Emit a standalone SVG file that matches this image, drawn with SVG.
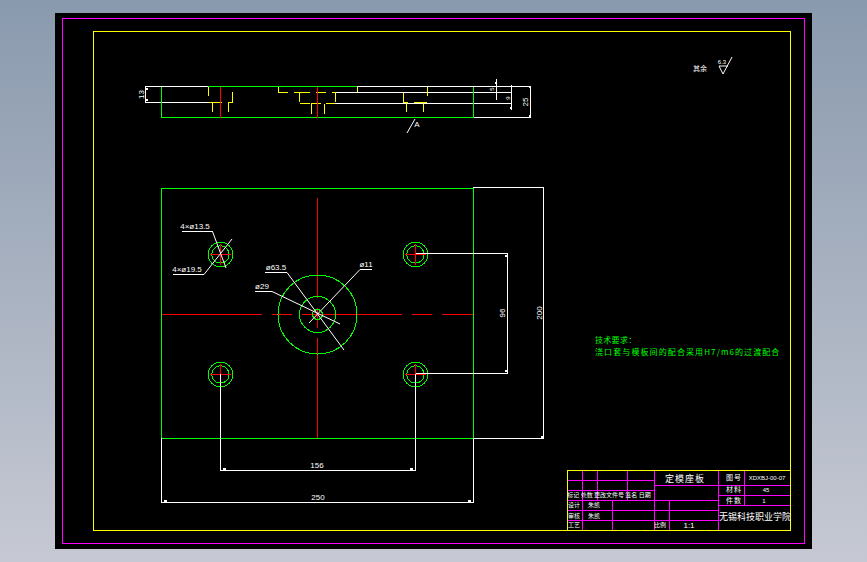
<svg xmlns="http://www.w3.org/2000/svg" width="867" height="562" viewBox="0 0 867 562">
<defs>
<linearGradient id="bg" x1="0" y1="0" x2="0" y2="1"><stop offset="0" stop-color="#8a9aae"/><stop offset="1" stop-color="#c6c9d3"/></linearGradient>
<g id="hole"><circle r="12.3" class="g"/><circle r="8.7" class="g"/><path d="M-10.5 0H10.5M0-10.5V10.5" class="r"/></g>
</defs>
<style>
line,path,rect,circle{fill:none;stroke-width:1;shape-rendering:crispEdges}
.g{stroke:#00ff00}.r{stroke:#ff0000}.w{stroke:#fff}.y{stroke:#ffff00}.m{stroke:#ff00ff}
.t{stroke:#fff;stroke-width:2}
text{font-family:"Liberation Sans","Noto Sans CJK SC",sans-serif;fill:#fff;font-size:8px;text-anchor:middle}
.zh{font-family:"Noto Sans CJK SC","Liberation Sans",sans-serif;font-size:7px}
.gt{fill:#00ff00;text-anchor:start;font-size:8px}
.s{font-size:6px}
</style>
<rect width="867" height="562" style="fill:url(#bg);stroke:none"/>
<rect x="55" y="13" width="757" height="536" style="fill:#000;stroke:none"/>
<rect x="62.5" y="18.5" width="742" height="525" class="m"/>
<rect x="93.5" y="31.5" width="697" height="499" class="y"/>
<g id="section-view">
<path class="w" d="M145.5 86.5H208M145.5 102.5H209M145.5 86V103M357 86.5H530.5M335 92.5H512M335 103.5H512M473.5 117.5H530.5M530.5 86V118M496.5 79V100M511.5 85V110"/>
<path class="t" d="M147 88V90M147 99V101M530 86V88M530 115V118M496 82V84M511 107V109"/>
<path class="g" d="M208 86.5H357M161.5 86.5V117.5H473.5M473.5 86.5V117.5"/>
<path class="y" d="M208.5 86.5V96M209 102.5H222M212.5 102.5V112M232.5 92V102.5H228.5V112M278.5 86.5V92.5H288M294 92.5H310M299.5 92.5V102M316 92.5H326M300 103.5H310M311.5 103.5V114M311 103.5H321M324.5 103.5V114M326 103.5H335M332 92.5H335.5V102M357.5 86.5V92M427.5 86.5V96M403.5 92.5V102.5H408M406.5 102.5V112M414 102.5H427M423.5 102.5V112"/>
<path class="r" d="M220.5 87V118M317.5 87V118"/>
<text transform="translate(144 94.5) rotate(-90)">13</text>
<text transform="translate(494 89) rotate(-90)" class="s">5</text>
<text transform="translate(510 98) rotate(-90)" class="s">9</text>
<text transform="translate(528 102) rotate(-90)">25</text>
<path class="w" d="M407 133L415 119" style="shape-rendering:auto"/>
<text x="417" y="127">A</text>
</g>
<g id="plan-view">
<rect x="161.5" y="188.5" width="312" height="250" class="g"/>
<path class="r" d="M162 314.5H262M272 314.5H292M302 314.5H402M412 314.5H432M442 314.5H473"/>
<path class="r" d="M317.5 198V298M317.5 308V328M317.5 338V438"/>
<circle cx="317.5" cy="314.5" r="39.5" class="g"/><circle cx="317.5" cy="314.5" r="18" class="g"/><circle cx="317.5" cy="314.5" r="5" class="g"/>
<use href="#hole" x="220.5" y="254.5"/><use href="#hole" x="415.5" y="254.5"/><use href="#hole" x="220.5" y="374.5"/><use href="#hole" x="415.5" y="374.5"/>
<path class="w" d="M473 187.5H544M543.5 188V438.5M473 438.5H544M415.5 253.5H507.5V373.5H415.5M220.5 373.5V470.5H415.5V373.5M161.5 438V502.5H473.5V438"/>
<path class="t" d="M506 255V257M506 370V372M223 469H226M410 469H413M164 501H167M468 501H471M542 436V438"/>
<path class="w" d="M182 231.5H212.5M173 274.5H204M265 272.5H287M255 291.5H272M360 269.5H372"/>
<path class="w" style="shape-rendering:auto" d="M212.5 231.5L226 268M204 274.5L232 239M287 272.5L344 350M272 291.5L340 324M360 269.5L309 323"/>
<text x="195" y="229">4×ø13.5</text>
<text x="187" y="272">4×ø19.5</text>
<text x="276" y="270">ø63.5</text>
<text x="262" y="289">ø29</text>
<text x="366" y="267">ø11</text>
<text x="317" y="468">156</text>
<text x="318" y="500">250</text>
<text transform="translate(505 313) rotate(-90)">96</text>
<text transform="translate(542 313) rotate(-90)">200</text>
</g>
<g id="notes">
<text x="595" y="343" class="zh gt" style="letter-spacing:.3px">技术要求：</text>
<text x="595" y="355" class="zh gt" style="letter-spacing:1.1px">浇口套与模板间的配合采用H7/m6的过渡配合</text>
<text x="700" y="71" class="zh">其余</text>
<text x="722" y="64" class="s">6.3</text>
<path class="w" style="shape-rendering:auto" d="M719 66H728M719 66L723 74L732 57"/>
</g>
<g id="title-block">
<rect x="567.5" y="470.5" width="223" height="60" class="y"/>
<path class="m" d="M567.5 480.5H654M567.5 490.5H654M567.5 500.5H718M567.5 510.5H718M567.5 520.5H718M654.5 470.5V530M718.5 470.5V530M654 485.5H790M718.5 495.5H790M718.5 505.5H790M744.5 470.5V505.5M582.5 470.5V530M597.5 470.5V500M627.5 470.5V500M612.5 500V530M669.5 500V530"/>
<text x="685" y="482" class="zh" style="font-size:9px;letter-spacing:1px">定模座板</text>
<text x="734" y="480" class="zh" style="letter-spacing:1px">图号</text>
<text x="767" y="480" class="s">XDXBJ-00-07</text>
<text x="734" y="492" class="zh" style="letter-spacing:1px">材料</text>
<text x="766" y="492" class="s">45</text>
<text x="734" y="503" class="zh" style="letter-spacing:1px">件数</text>
<text x="764" y="503" class="s">1</text>
<text x="755" y="520" class="zh" style="font-size:9px">无锡科技职业学院</text>
<text x="609" y="497" class="zh s">标记 处数 更改文件号 签名 日期</text>
<text x="574" y="507" class="zh s">设计</text><text x="594" y="507" class="zh s">朱凯</text>
<text x="574" y="518" class="zh s">审核</text><text x="594" y="518" class="zh s">朱凯</text>
<text x="574" y="527" class="zh s">工艺</text>
<text x="660" y="527" class="zh s">比例</text>
<text x="689" y="528">1:1</text>
</g>
</svg>
